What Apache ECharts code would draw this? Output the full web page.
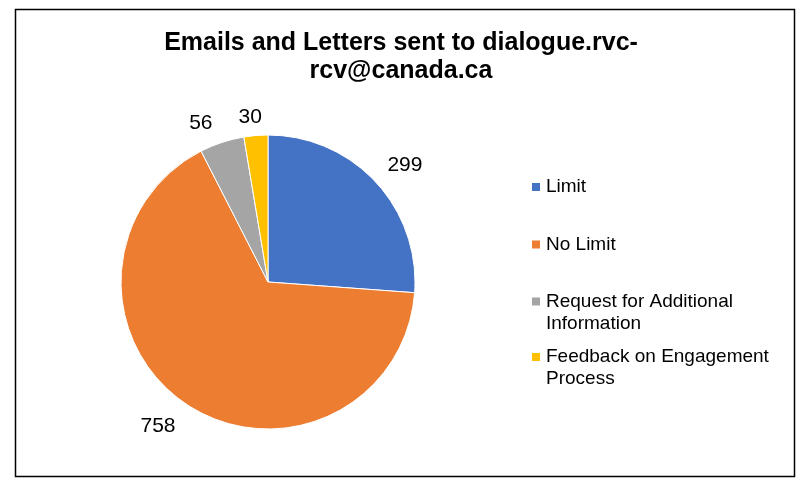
<!DOCTYPE html>
<html><head><meta charset="utf-8">
<script src="https://cdn.jsdelivr.net/npm/echarts@6/dist/echarts.min.js"></script>
<style>html,body{margin:0;padding:0;background:#fff}#c{width:807px;height:490px}</style>
</head><body><div id="c"></div>
<script>
const titleText = 'Emails and Letters sent to dialogue.rvc-\nrcv@canada.ca';
const categories = ['Limit', 'No Limit', 'Request for Additional\nInformation', 'Feedback on Engagement\nProcess'];
const values = [299, 758, 56, 30];
const colors = ['#4472C4', '#ED7D31', '#A5A5A5', '#FFC000'];

// legend item placement (style/layout)
const legendTops = [176, 233.5, 268.5, 324];
// per-label tuning of label-line length and text distance (style/layout)
const labelLen = [24.8, 25.8, 20.4, 18.6];
const labelDist = [-6.4, -3, 3, -7.6];

const chart = echarts.init(document.getElementById('c'));
const font = 'Arial, "Liberation Sans", sans-serif';
chart.setOption({
  animation: false,
  color: colors,
  title: {
    text: titleText, left: 396, top: 24, textAlign: 'center',
    textStyle: {fontFamily: font, fontSize: 25, fontWeight: 'bold', color: '#000', lineHeight: 28}
  },
  legend: categories.map((c, i) => ({
    orient: 'vertical', left: 530, top: legendTops[i], data: [c], padding: 0,
    icon: 'rect', itemWidth: 10, itemHeight: 10, itemGap: 0,
    formatter: name => name.indexOf('\n') >= 0 ? '\n' + name : name,
    textStyle: {fontFamily: font, fontSize: 19, color: '#000', lineHeight: 22},
    selectedMode: false
  })),
  graphic: [{type: 'rect', shape: {x: 15.5, y: 9.5, width: 779, height: 467}, style: {fill: 'none', stroke: '#000', lineWidth: 1.5}, silent: true}],
  series: [{
    type: 'pie', center: [268, 282], radius: 147, startAngle: 90, clockwise: true,
    data: categories.map((c, i) => ({
      name: c, value: values[i],
      label: {distanceToLabelLine: labelDist[i]},
      labelLine: {show: false, length: labelLen[i], length2: 0}
    })),
    itemStyle: {borderColor: '#fff', borderWidth: 1},
    label: {show: true, position: 'outside', formatter: '{c}', fontFamily: font, fontSize: 21, color: '#000'},
    labelLine: {show: false, length: 22, length2: 0},
    avoidLabelOverlap: false
  }]
});
</script></body></html>
